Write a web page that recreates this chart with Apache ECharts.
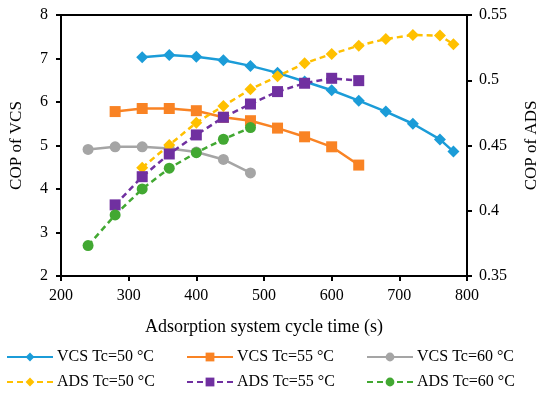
<!DOCTYPE html>
<html><head><meta charset="utf-8">
<script src="https://cdn.jsdelivr.net/npm/echarts@6/dist/echarts.min.js"></script>
<style>html,body{margin:0;padding:0;background:#fff}#c{width:550px;height:394px}</style>
</head><body><div id="c"></div>
<script>
const xTicks = [200, 300, 400, 500, 600, 700, 800];
const vcs50X = [320,360,400,440,480,520,560,600,640,680,720,760,780];
const vcs50Y = [7.03,7.08,7.04,6.96,6.83,6.67,6.47,6.27,6.03,5.78,5.50,5.14,4.86];
const vcs55X = [280,320,360,400,440,480,520,560,600,640];
const vcs55Y = [5.78,5.85,5.85,5.80,5.65,5.57,5.40,5.20,4.97,4.55];
const vcs60X = [240,280,320,360,400,440,480];
const vcs60Y = [4.91,4.97,4.97,4.93,4.85,4.68,4.37];
const ads50X = [320,360,400,440,480,520,560,600,640,680,720,760,780];
const ads50Y = [0.4330,0.4504,0.4675,0.4803,0.4931,0.5030,0.5130,0.5201,0.5265,0.5316,0.5347,0.5342,0.5276];
const ads55X = [280,320,360,400,440,480,520,560,600,640];
const ads55Y = [0.4045,0.4261,0.4435,0.4581,0.4716,0.4818,0.4913,0.4977,0.5015,0.4997];
const ads60X = [240,280,320,360,400,440,480];
const ads60Y = [0.3733,0.3968,0.4167,0.4326,0.4445,0.4548,0.4637];

const FONT = '"Liberation Serif","Times New Roman",serif';
const zip = (xs, ys) => xs.map((x, i) => [x, ys[i]]);

function mk(name, xs, ys, color, symbol, dashed, yIdx) {
  return {
    name, type: 'line', yAxisIndex: yIdx, data: zip(xs, ys),
    symbol, symbolSize: symbol === 'diamond' ? 12 : 11,
    itemStyle: { color },
    lineStyle: { color, width: 2.5, type: dashed ? [6, 4] : 'solid' },
    z: dashed ? 3 : 2
  };
}
const series = [
  mk('VCS Tc=50 °C', vcs50X, vcs50Y, '#1B9CD8', 'diamond', false, 0),
  mk('VCS Tc=55 °C', vcs55X, vcs55Y, '#F98324', 'rect', false, 0),
  mk('VCS Tc=60 °C', vcs60X, vcs60Y, '#A5A5A5', 'circle', false, 0),
  mk('ADS Tc=50 °C', ads50X, ads50Y, '#FFC000', 'diamond', true, 1),
  mk('ADS Tc=55 °C', ads55X, ads55Y, '#7030A0', 'rect', true, 1),
  mk('ADS Tc=60 °C', ads60X, ads60Y, '#42A832', 'circle', true, 1)
];
const legPos = [[6,349],[186,349],[366,349],[6,374],[186,374],[366,374]];
const legends = series.map((s, i) => ({
  data: [s.name], left: legPos[i][0], top: legPos[i][1],
  itemWidth: 46, itemHeight: 11, itemGap: 4,
  textStyle: { fontFamily: FONT, fontSize: 16, color: '#000', padding: [0,0,0,-1] },
  padding: 0
}));

const chart = echarts.init(document.getElementById('c'));
chart.setOption({
  animation: false,
  backgroundColor: '#fff',
  grid: { left: 58, right: 83, top: 15, bottom: 118, show: true, borderColor: '#000', borderWidth: 2 },
  legend: legends,
  xAxis: {
    type: 'value', min: xTicks[0], max: xTicks[xTicks.length - 1], interval: 100,
    name: 'Adsorption system cycle time (s)', nameLocation: 'middle', nameGap: 42,
    nameTextStyle: { fontFamily: FONT, fontSize: 18, color: '#000' },
    axisLine: { lineStyle: { color: '#000', width: 2 } },
    axisTick: { inside: false, length: 5, lineStyle: { color: '#000', width: 2 } },
    axisLabel: { fontFamily: FONT, fontSize: 16, color: '#000', margin: 12 },
    splitLine: { show: false }
  },
  yAxis: [{
    type: 'value', min: 2, max: 8, interval: 1, position: 'left',
    name: 'COP of VCS', nameLocation: 'middle', nameGap: 36, nameRotate: 90,
    nameTextStyle: { fontFamily: FONT, fontSize: 17, color: '#000' },
    axisLine: { show: true, lineStyle: { color: '#000', width: 2 } },
    axisTick: { show: true, length: 5, lineStyle: { color: '#000', width: 2 } },
    axisLabel: { fontFamily: FONT, fontSize: 16, color: '#000', margin: 13 },
    splitLine: { show: false }
  }, {
    type: 'value', min: 0.35, max: 0.55, interval: 0.05, position: 'right',
    name: 'COP of ADS', nameLocation: 'middle', nameGap: 56, nameRotate: 90,
    nameTextStyle: { fontFamily: FONT, fontSize: 17, color: '#000' },
    axisLine: { show: true, lineStyle: { color: '#000', width: 2 } },
    axisTick: { show: true, length: 5, lineStyle: { color: '#000', width: 2 } },
    axisLabel: { fontFamily: FONT, fontSize: 16, color: '#000', margin: 12 },
    splitLine: { show: false }
  }],
  series
});
</script></body></html>
